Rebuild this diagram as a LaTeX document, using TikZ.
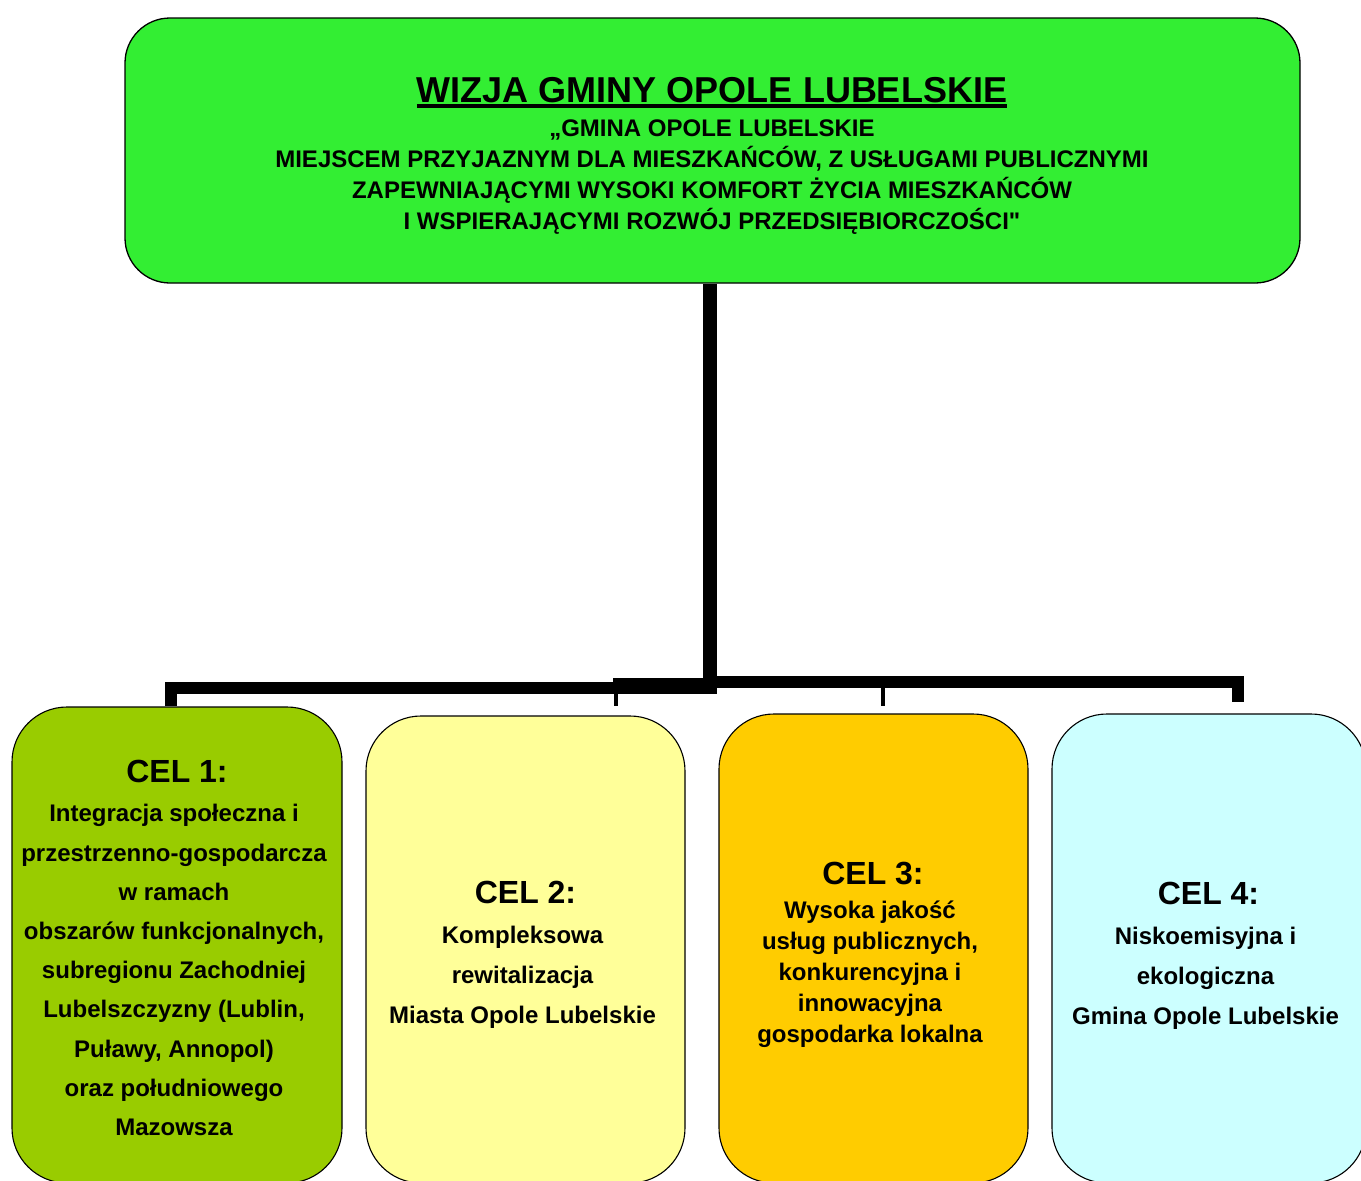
\documentclass[tikz,border=0pt]{standalone}
\usepackage{fontspec}
\setmainfont{Liberation Sans}
\newfontfamily\plainfont{Liberation Sans}
\usepackage{xcolor}
\usetikzlibrary{positioning, calc}

\definecolor{visiongreen}{RGB}{51,238,51}
\definecolor{celgreen}{RGB}{153,204,0}
\definecolor{celyellow}{RGB}{255,255,153}
\definecolor{celorange}{RGB}{255,204,0}
\definecolor{celcyan}{RGB}{204,255,255}

\newcommand{\ulbold}[1]{\setbox0=\hbox{#1}\makebox[0pt][l]{\rule[-5pt]{\wd0}{4pt}}\box0}
\newcommand{\celhead}[1]{{\fontsize{32}{39}\selectfont\hspace*{6pt}#1}}

\begin{document}
\begin{tikzpicture}[
    x=1pt, y=-1pt,
    visionbox/.style={
        draw, line width=1.3pt, rounded corners=45pt,
        fill=visiongreen, minimum width=1175pt, minimum height=265pt
    },
    visiontext/.style={
        align=center, inner sep=0pt,
        font=\fontsize{24}{31}\selectfont\bfseries
    },
    goalbox/.style={
        draw, line width=1.1pt, rounded corners=55pt,
        minimum height=469pt
    },
    goaltext/.style={
        align=center, inner sep=0pt,
        font=\fontsize{24}{40}\selectfont\bfseries
    },
    trunk/.style={line width=14pt},
    bar/.style={line width=12pt},
    twig/.style={line width=4.5pt}
]
    \useasboundingbox (0,0) rectangle (1361,1181);
    \clip (0,0) rectangle (1361,1181);

    \node[visionbox] (wizjabox) at (712.5, 150.5) {};
    \node[visiontext] (wizja) at (712, 156) {\ulbold{\fontsize{36}{40}\selectfont WIZJA GMINY OPOLE LUBELSKIE}\\[2.6pt]
        „GMINA OPOLE LUBELSKIE\\
        MIEJSCEM PRZYJAZNYM DLA MIESZKAŃCÓW, Z USŁUGAMI PUBLICZNYMI\\
        ZAPEWNIAJĄCYMI WYSOKI KOMFORT ŻYCIA MIESZKAŃCÓW\\
        I WSPIERAJĄCYMI ROZWÓJ PRZEDSIĘBIORCZOŚCI{\plainfont\bfseries"}};

    \node[goalbox, fill=celgreen, minimum width=330pt, minimum height=476pt] (cel1) at (177, 945) {};
    \node[goalbox, fill=celyellow, minimum width=319pt, minimum height=467pt] (cel2) at (525.5, 949.5) {};
    \node[goalbox, fill=celorange, minimum width=309pt] (cel3) at (873.5, 948.5) {};
    \node[goalbox, fill=celcyan, minimum width=314pt] (cel4) at (1209, 948.5) {};

    \node[goaltext, font=\fontsize{24}{39.2}\selectfont\bfseries] (cel1text) at (174, 948)
        {\celhead{CEL 1:}\\
        Integracja społeczna i\\
        przestrzenno-gospodarcza\\
        w ramach\\
        obszarów funkcjonalnych,\\
        subregionu Zachodniej\\
        Lubelszczyzny (Lublin,\\
        Puławy, Annopol)\\
        oraz południowego\\
        Mazowsza};
    \node[goaltext] (cel2text) at (522.5, 954.5)
        {\celhead{CEL 2:}\\
        Kompleksowa\\
        rewitalizacja\\
        Miasta Opole Lubelskie};
    \node[goaltext, font=\fontsize{24}{31}\selectfont\bfseries] (cel3text) at (870, 954.5)
        {\celhead{CEL 3:}\\[3pt]
        Wysoka jakość\\
        usług publicznych,\\
        konkurencyjna i\\
        innowacyjna\\
        gospodarka lokalna};
    \node[goaltext] (cel4text) at (1205.5, 955.5)
        {\celhead{CEL 4:}\\
        Niskoemisyjna i\\
        ekologiczna\\
        Gmina Opole Lubelskie};

    % tree of connectors
    \coordinate (hub) at (710, 694);
    \coordinate (j1) at (171, 688);
    \coordinate (j2) at (616, 690);
    \coordinate (j3) at (883, 682);
    \coordinate (j4) at (1238, 682);
    \coordinate (hubleft) at (717, 688);
    \coordinate (hubright) at (703, 682);

    \draw[trunk] (wizjabox.south -| hub) -- (hub);
    \draw[bar] (j1 |- cel1.north) -- (j1) -- (hubleft);
    \draw[line width=16pt] (613, 686) -- (717, 686);
    \draw[bar, shorten >=11pt] (hubright) -- (j4) -- (j4 |- cel4.north);
    \draw[twig, shorten >=9pt] (j2) -- (j2 |- cel2.north);
    \draw[twig, shorten >=7pt] (j3) -- (j3 |- cel3.north);
\end{tikzpicture}
\end{document}
